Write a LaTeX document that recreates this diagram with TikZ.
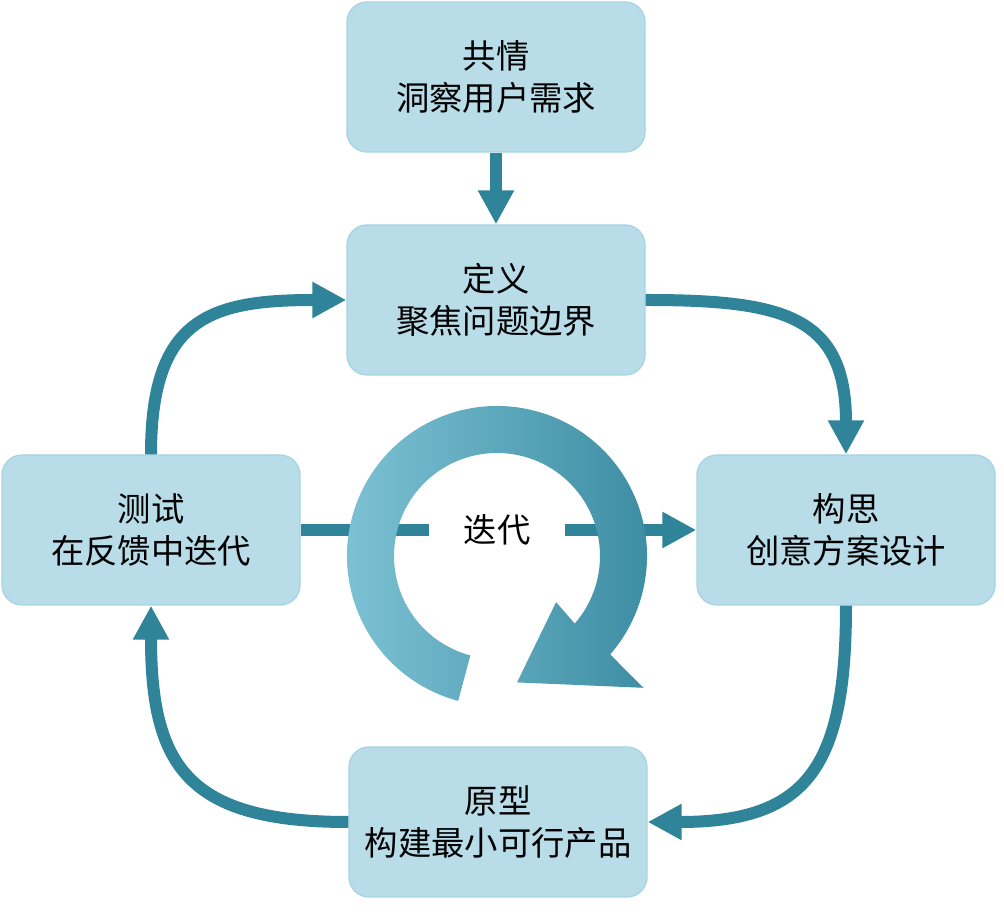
\documentclass[tikz,border=0pt]{standalone}
\usepackage{fontspec}
\setmainfont{Noto Sans CJK SC}
\usetikzlibrary{arrows.meta,calc}
\definecolor{boxfill}{HTML}{B8DDE8}
\definecolor{boxline}{HTML}{A6D4E3}
\definecolor{flowcol}{HTML}{2F8499}
\definecolor{ringlight}{HTML}{80C4D6}
\definecolor{ringmid}{HTML}{52ACC7}
\definecolor{ringdark}{HTML}{3A8BA1}
\begin{document}
\begin{tikzpicture}[x=0.75pt, y=0.75pt,
  stage/.style={rectangle, rounded corners=15pt, fill=boxfill, draw=boxline, line width=1pt,
    minimum width=223.5pt, minimum height=112.5pt, align=center, font=\fontsize{25}{31}\selectfont},
  link/.style={draw=flowcol, line width=9pt},
  flow/.style={link, -{Triangle[width=25.5pt, length=25.5pt]}}]
\useasboundingbox (0,0) rectangle (1004,918);
\node[stage] (emp) at (496,841){共情\\洞察用户需求};
\node[stage] (def) at (496,618){定义\\聚焦问题边界};
\node[stage] (test) at (151,388){测试\\在反馈中迭代};
\node[stage] (idea) at (846,388){构思\\创意方案设计};
\node[stage] (proto) at (498,96){原型\\构建最小可行产品};
\node[inner xsep=26pt, font=\fontsize{25}{31}\selectfont] (iter) at (497,388){迭代};
\draw[flow](emp) -- (def);
\draw[flow](def.east) to[out=0, in=90, looseness=1.4] (idea.north);
\draw[flow](idea.south) to[out=-90, in=0, looseness=1.4] (proto.east);
\draw[flow](proto.west) to[out=180, in=-90, looseness=1.4] (test.south);
\draw[flow](test.north) to[out=90, in=180, looseness=1.4] (def.west);
\draw[link](test.east) -- (iter.west);
\draw[flow](iter.east) -- (idea.west);
% ring arrow
\coordinate (hub) at (497,362);
\shade[left color=ringlight, middle color=ringmid, right color=ringdark]
  ($(hub)+(255:150)$) arc[start angle=255, end angle=-41, radius=150]
  -- ($(hub)+(-42:197)$) -- ($(hub)+(-81:128)$) -- ($(hub)+(-38:75)$)
  -- ($(hub)+(-41:103)$) arc[start angle=-41, end angle=255, radius=103] -- cycle;
\end{tikzpicture}
\end{document}
